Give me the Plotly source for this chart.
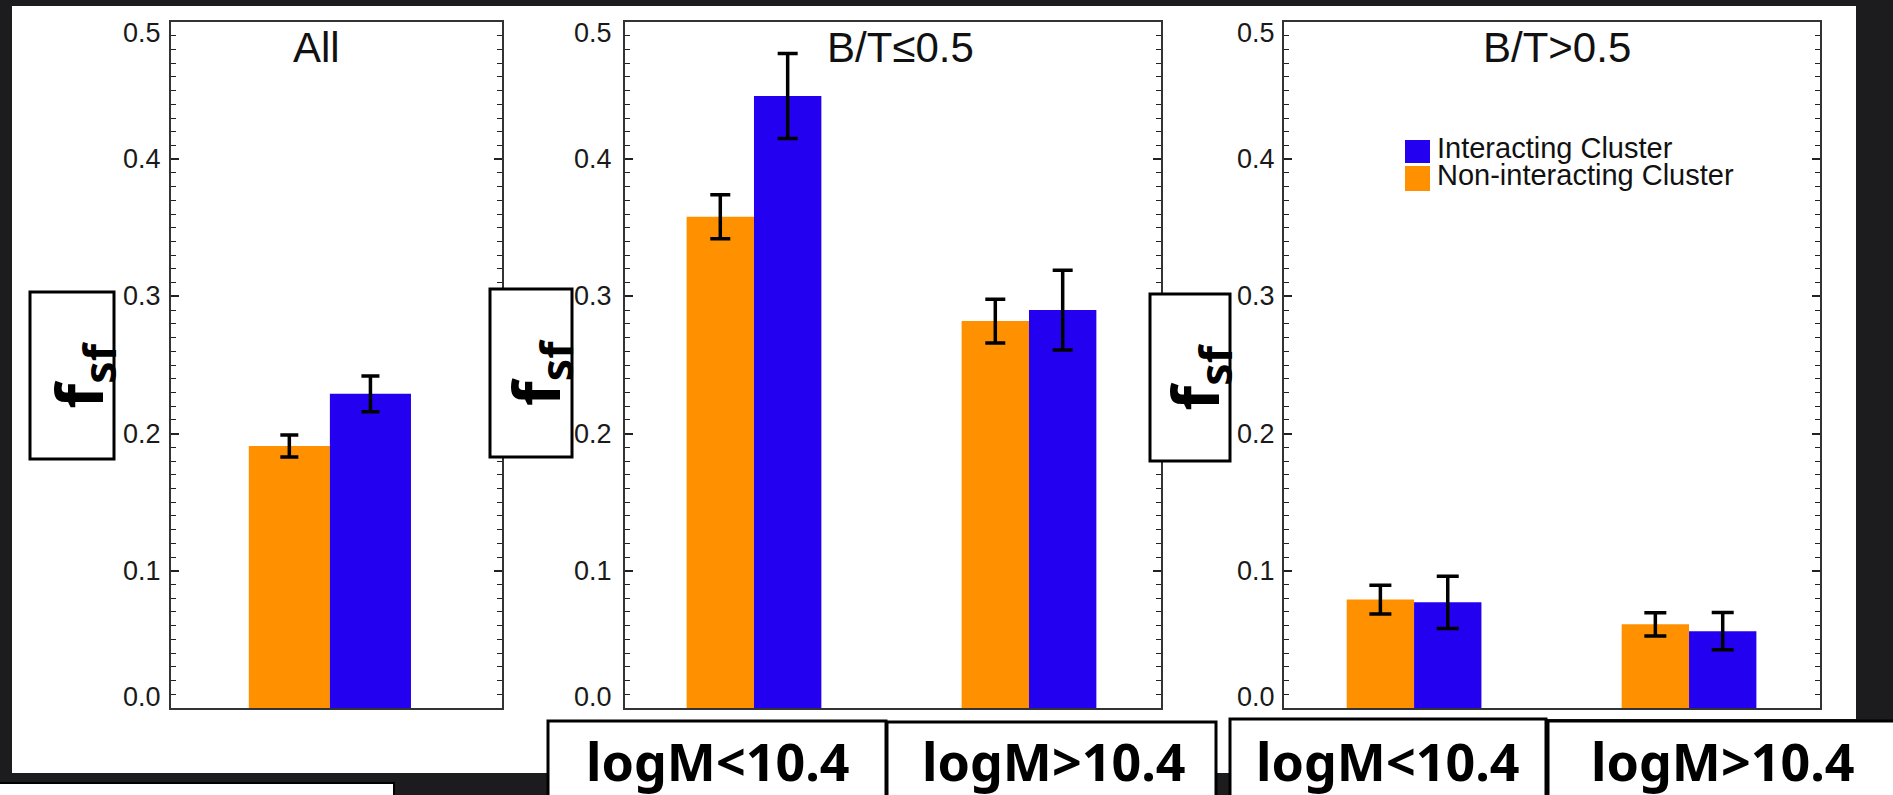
import plotly.graph_objects as go

# ---------------- data ----------------
panel_titles = ["All", "B/T≤0.5", "B/T>0.5"]
all_bins = ["All"]
mass_bins = ["logM<10.4", "logM>10.4"]
series_names = ["Non-interacting Cluster", "Interacting Cluster"]

all_non = [0.191]
all_non_err = [0.008]
all_int = [0.229]
all_int_err = [0.013]

disk_non = [0.358, 0.282]
disk_non_err = [0.016, 0.016]
disk_int = [0.446, 0.290]
disk_int_err = [0.031, 0.029]

bulge_non = [0.079, 0.061]
bulge_non_err = [0.0105, 0.0085]
bulge_int = [0.077, 0.056]
bulge_int_err = [0.019, 0.0136]

y_ticks = [0.0, 0.1, 0.2, 0.3, 0.4, 0.5]

# ---------------- styling ----------------
W, H = 1893, 795
ORANGE = "#FF9100"
BLUE = "#2400F0"
AXIS_FONT = "Liberation Sans, Arial, Helvetica, sans-serif"
BOLD_FONT = "Noto Sans, DejaVu Sans, sans-serif"


def fx(px):
    return px / W


def fy(py):
    return 1 - py / H


# panel frames in pixels: (left, right), shared top/bottom
frames = [(171, 502), (625, 1161), (1284, 1819.5)]
top_px, bot_px = 22, 708
x_ranges = [[-0.48, 0.52], [-0.469, 1.48], [-0.473, 1.4745]]
cap_w = [9, 10, 11]

panels = [
    (all_bins, all_non, all_non_err, all_int, all_int_err),
    (mass_bins, disk_non, disk_non_err, disk_int, disk_int_err),
    (mass_bins, bulge_non, bulge_non_err, bulge_int, bulge_int_err),
]

fig = go.Figure()

for i, (cats, non, non_err, inter, inter_err) in enumerate(panels):
    xa = "x" if i == 0 else f"x{i+1}"
    ya = "y" if i == 0 else f"y{i+1}"
    for name, vals, errs, col in [
        (series_names[0], non, non_err, ORANGE),
        (series_names[1], inter, inter_err, BLUE),
    ]:
        fig.add_trace(go.Bar(
            x=cats, y=vals, name=name, xaxis=xa, yaxis=ya,
            marker=dict(color=col, line=dict(width=0)),
            error_y=dict(type="data", array=errs, color="black",
                         thickness=3.5, width=cap_w[i]),
            showlegend=False, hoverinfo="skip",
        ))

layout_axes = {}
for i, (l, r) in enumerate(frames):
    xkey = "xaxis" if i == 0 else f"xaxis{i+1}"
    ykey = "yaxis" if i == 0 else f"yaxis{i+1}"
    xa = "x" if i == 0 else f"x{i+1}"
    ya = "y" if i == 0 else f"y{i+1}"
    layout_axes[xkey] = dict(
        domain=[fx(l), fx(r)], anchor=ya, type="category",
        range=x_ranges[i], showticklabels=False, ticks="",
        showgrid=False, zeroline=False, showline=True,
        linecolor="#333", linewidth=2, mirror=True, fixedrange=True,
    )
    layout_axes[ykey] = dict(
        domain=[fy(bot_px), fy(top_px)], anchor=xa, range=[0, 0.5],
        tickvals=y_ticks, ticks="inside", ticklen=8, tickwidth=1.6,
        tickcolor="#222", showticklabels=False, showgrid=False,
        zeroline=False, showline=True, linecolor="#333", linewidth=2,
        mirror="ticks", fixedrange=True,
        minor=dict(dtick=0.01, tick0=0, ticks="inside", ticklen=5,
                   tickwidth=1.3, tickcolor="#222"),
    )

shapes = []
annotations = []

# white panel backgrounds
for (x0, y0, x1, y1) in [(12, 6, 1232, 773), (1140, 6, 1856, 719)]:
    shapes.append(dict(type="rect", xref="paper", yref="paper",
                       x0=fx(x0), x1=fx(x1), y0=fy(y1), y1=fy(y0),
                       fillcolor="white", line=dict(width=0), layer="below"))

# tick labels along each panel's y axis
label_gap = [8, 11, 7]
for i, (l, r) in enumerate(frames):
    ya = "y" if i == 0 else f"y{i+1}"
    for v in y_ticks:
        shift = 11 if v == y_ticks[0] else (-11 if v == y_ticks[-1] else 0)
        annotations.append(dict(
            text=f"{v:.1f}", xref="paper", yref=ya,
            x=fx(l - label_gap[i]), y=v, xanchor="right", yanchor="middle",
            yshift=shift, showarrow=False,
            font=dict(family=AXIS_FONT, size=27, color="#1a1a1a"),
        ))

# panel titles
title_pos = [(316.5, 48), (900, 48), (1557, 48)]
for t, (px, py) in zip(panel_titles, title_pos):
    annotations.append(dict(
        text=t, xref="paper", yref="paper", x=fx(px), y=fy(py),
        xanchor="center", yanchor="middle", showarrow=False,
        font=dict(family=AXIS_FONT, size=42, color="#111"),
    ))

# legend in the last panel
legend_rows = [(series_names[1], BLUE, 140, 163, 148),
               (series_names[0], ORANGE, 166, 191, 175)]
for name, col, y0, y1, ty in legend_rows:
    shapes.append(dict(type="rect", xref="paper", yref="paper",
                       x0=fx(1405), x1=fx(1430), y0=fy(y1), y1=fy(y0),
                       fillcolor=col, line=dict(width=0), layer="above"))
    annotations.append(dict(
        text=name, xref="paper", yref="paper", x=fx(1435), y=fy(ty),
        xanchor="left", yanchor="middle", showarrow=False,
        font=dict(family=AXIS_FONT, size=29, color="#111"),
    ))

# f_sf label boxes
fsf_boxes = [(30, 292, 114, 459), (490, 289, 572, 457), (1150, 294, 1230, 461)]
for (x0, y0, x1, y1) in fsf_boxes:
    shapes.append(dict(type="rect", xref="paper", yref="paper",
                       x0=fx(x0), x1=fx(x1), y0=fy(y1), y1=fy(y0),
                       fillcolor="white", line=dict(color="black", width=3),
                       layer="above"))
    annotations.append(dict(
        text="<b>f<sub>sf</sub></b>", xref="paper", yref="paper",
        x=fx(x1 - 33), y=fy((y0 + y1) / 2), xanchor="center",
        yanchor="middle", textangle=-90, showarrow=False,
        font=dict(family=BOLD_FONT, size=64, color="black"),
    ))

# mass-bin label boxes along the bottom
bin_boxes = [(548, 721, 886), (887, 722, 1216), (1230, 719, 1546), (1548, 721, 1905)]
bin_text_x = [717, 1053, 1387, 1722]
bin_labels = mass_bins + mass_bins
for (x0, y0, x1), tx, lab in zip(bin_boxes, bin_text_x, bin_labels):
    shapes.append(dict(type="rect", xref="paper", yref="paper",
                       x0=fx(x0), x1=fx(x1), y0=fy(810), y1=fy(y0),
                       fillcolor="white", line=dict(color="black", width=3),
                       layer="above"))
    annotations.append(dict(
        text=f"<b>{lab}</b>", xref="paper", yref="paper", x=fx(tx), y=fy(760),
        xanchor="center", yanchor="middle", showarrow=False,
        font=dict(family=BOLD_FONT, size=52, color="black"),
    ))

# strip in the lower-left corner
shapes.append(dict(type="rect", xref="paper", yref="paper",
                   x0=fx(-5), x1=fx(394), y0=fy(810), y1=fy(783),
                   fillcolor="white", line=dict(color="black", width=2),
                   layer="above"))

fig.update_layout(
    width=W, height=H, margin=dict(l=0, r=0, t=0, b=0),
    paper_bgcolor="#1c1c1e", plot_bgcolor="white",
    barmode="group", bargap=0.51, bargroupgap=0,
    shapes=shapes, annotations=annotations, showlegend=False,
    **layout_axes,
)

fig.write_html("out.html", config={"displayModeBar": False})
